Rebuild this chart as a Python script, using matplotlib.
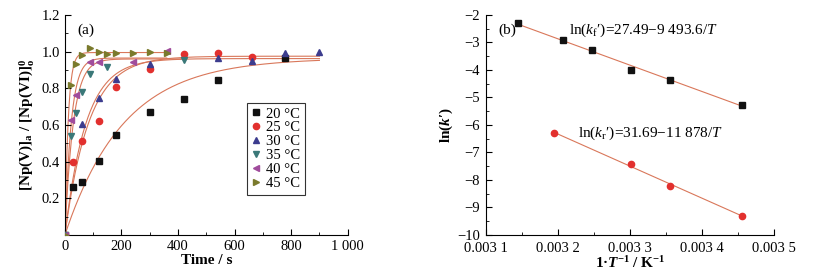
import numpy as np
import matplotlib
matplotlib.use("Agg")
import matplotlib.pyplot as plt
from matplotlib.ticker import MultipleLocator, FixedLocator

plt.rcParams["font.family"] = ["Liberation Serif", "DejaVu Serif"]
plt.rcParams["mathtext.fontset"] = "custom"
plt.rcParams["mathtext.rm"] = "Liberation Serif"
plt.rcParams["mathtext.it"] = "Liberation Serif:italic"
plt.rcParams["mathtext.bf"] = "Liberation Serif:bold"
plt.rcParams["mathtext.bfit"] = "Liberation Serif:bold:italic"

# ---- panel (a): kinetics data ----
labels = ["20 °C", "25 °C", "30 °C", "35 °C", "40 °C", "45 °C"]
t_20 = [0, 30, 60, 120, 180, 300, 420, 540, 780]
y_20 = [0, 0.26, 0.29, 0.405, 0.546, 0.673, 0.741, 0.846, 0.964]
t_25 = [0, 30, 60, 120, 180, 300, 420, 540, 660]
y_25 = [0, 0.40, 0.513, 0.622, 0.805, 0.904, 0.986, 0.991, 0.973]
t_30 = [0, 60, 120, 180, 300, 540, 660, 780, 900]
y_30 = [0, 0.606, 0.745, 0.849, 0.931, 0.964, 0.951, 0.995, 1.0]
t_35 = [0, 20, 40, 60, 90, 150, 420]
y_35 = [0, 0.538, 0.666, 0.78, 0.876, 0.916, 0.953]
t_40 = [0, 20, 40, 90, 120, 240, 360]
y_40 = [0, 0.627, 0.764, 0.942, 0.946, 0.942, 1.005]
t_45 = [0, 20, 40, 60, 90, 120, 150, 180, 240, 300, 360]
y_45 = [0, 0.818, 0.935, 0.982, 1.022, 1.0, 0.987, 0.99, 0.995, 1.0, 0.99]

# first-order fit parameters: plateau and rate (1/s)
fit_plateau = [0.965, 0.975, 0.962, 0.96, 0.965, 0.995]
fit_rate = [0.0048, 0.0118, 0.0135, 0.034, 0.045, 0.085]
fit_tmax = [900, 900, 900, 420, 360, 360]

# ---- panel (b): Arrhenius data ----
invT_f = [0.003144, 0.003207, 0.003247, 0.003301, 0.003356, 0.003455]
lnk_f = [-2.31, -2.90, -3.28, -3.99, -4.36, -5.26]
invT_r = [0.003195, 0.003301, 0.003356, 0.003455]
lnk_r = [-6.30, -7.42, -8.23, -9.30]

series = [(t_20, y_20), (t_25, y_25), (t_30, y_30),
          (t_35, y_35), (t_40, y_40), (t_45, y_45)]
markers = ["s", "o", "^", "v", "<", ">"]
colors = ["#111111", "#e2302e", "#3c3c8e", "#3a7878", "#a04c9c", "#7a7a2c"]
fit_color = "#d9775a"

fig = plt.figure(figsize=(8.22, 2.77), dpi=100)
ax0 = fig.add_axes([0.079, 0.152, 0.344, 0.794])
ax1 = fig.add_axes([0.591, 0.152, 0.351, 0.794])

for ax in (ax0, ax1):
    ax.spines["top"].set_visible(False)
    ax.spines["right"].set_visible(False)
    ax.tick_params(which="both", direction="in", labelsize=10.5)
    ax.tick_params(which="major", length=4)
    ax.tick_params(which="minor", length=2)

# panel (a)
for i, (t, y) in enumerate(series):
    tt = np.linspace(0, fit_tmax[i], 300)
    ax0.plot(tt, fit_plateau[i] * (1 - np.exp(-fit_rate[i] * tt)),
             color=fit_color, lw=0.8, zorder=1)
for i, (t, y) in enumerate(series):
    ax0.plot(t, y, ls="none", marker=markers[i], color=colors[i],
             ms=4.5, label=labels[i], zorder=3)

ax0.set_xlim(0, 1000)
ax0.set_ylim(0, 1.2)
ax0.xaxis.set_minor_locator(MultipleLocator(100))
ax0.yaxis.set_major_locator(FixedLocator([0.2, 0.4, 0.6, 0.8, 1.0, 1.2]))
ax0.yaxis.set_minor_locator(MultipleLocator(0.1))
ax0.set_xticks([0, 200, 400, 600, 800, 1000])
ax0.set_xticklabels(["0", "200", "400", "600", "800", "1 000"])
ax0.set_yticklabels(["0.2", "0.4", "0.6", "0.8", "1.0", "1.2"])
ax0.set_xlabel("Time / s", fontweight="bold", fontsize=11, labelpad=1)
ax0.set_ylabel(r"[Np(V)]$_\mathbf{a}$ / [Np(VI)]$_\mathbf{o}^\mathbf{0}$",
               fontweight="bold", fontsize=11, labelpad=4)
ax0.text(0.045, 0.96, "(a)", transform=ax0.transAxes, fontsize=11, va="top")
leg = ax0.legend(loc="upper left", bbox_to_anchor=(0.645, 0.60), fontsize=10.5,
                 frameon=True, fancybox=False, handlelength=0.6,
                 handletextpad=0.4, labelspacing=0.05, borderpad=0.3,
                 borderaxespad=0)
leg.get_frame().set_edgecolor("black")
leg.get_frame().set_linewidth(0.8)

# panel (b)
for x, y, c, m in [(invT_f, lnk_f, "#111111", "s"), (invT_r, lnk_r, "#e2302e", "o")]:
    slope, icpt = np.polyfit(x, y, 1)
    xx = np.array([min(x), max(x)])
    ax1.plot(xx, slope * xx + icpt, color=fit_color, lw=0.8, zorder=1)
    ax1.plot(x, y, ls="none", marker=m, color=c, ms=4.5, zorder=3)

ax1.set_xlim(0.0031, 0.0035)
ax1.set_ylim(-10, -2)
xt = [0.0031, 0.0032, 0.0033, 0.0034, 0.0035]
ax1.set_xticks(xt)
ax1.set_xticklabels(["0.003 1", "0.003 2", "0.003 3", "0.003 4", "0.003 5"])
ax1.xaxis.set_minor_locator(MultipleLocator(0.00005))
yt = list(range(-10, -1))
ax1.set_yticks(yt)
ax1.set_yticklabels(["\u2212%d" % abs(v) for v in yt])
ax1.yaxis.set_minor_locator(MultipleLocator(0.5))
ax1.tick_params(axis="x", which="major", pad=5)
ax1.tick_params(axis="y", which="major", pad=4)
ax1.set_xlabel(r"1·$\mathbfit{T}^{\mathbf{-1}}$ / K$^{\mathbf{-1}}$",
               fontweight="bold", fontsize=11, labelpad=0)
ax1.set_ylabel(r"ln($\mathbfit{k}$′)", fontweight="bold", fontsize=11, labelpad=2)
ax1.text(0.045, 0.96, "(b)", transform=ax1.transAxes, fontsize=11, va="top")
ax1.text(0.003318, -2.55, r"ln($k_\mathrm{f}$′)=27.49−9 493.6/$T$",
         fontsize=11, ha="center", va="center")
ax1.text(0.003328, -6.3, r"ln($k_\mathrm{r}$′)=31.69−11 878/$T$",
         fontsize=11, ha="center", va="center")

fig.savefig("out.png", dpi=100)
